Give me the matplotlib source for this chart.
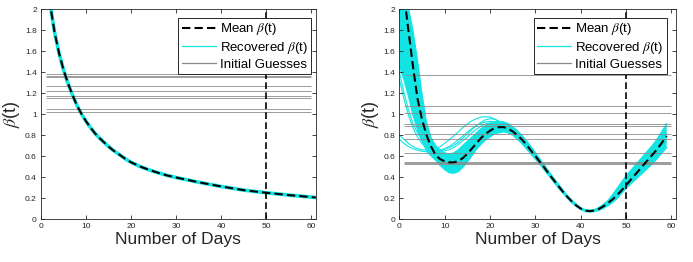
import numpy as np
import matplotlib
matplotlib.use("Agg")
import matplotlib.pyplot as plt
from matplotlib.lines import Line2D

plt.rcParams["font.family"] = ["Liberation Sans", "DejaVu Sans"]
plt.rcParams["mathtext.fontset"] = "stix"

# ---- left panel: decreasing beta(t) ----
days_left = [1, 2, 3, 4, 5, 6, 7, 8, 9, 10, 11, 12, 13, 14, 15, 16, 17, 18, 19, 20,
             22, 24, 26, 28, 30, 35, 40, 45, 50, 55, 61]
beta_left = [2.5, 2.05, 1.78, 1.58, 1.42, 1.29, 1.18, 1.08, 1.0, 0.93, 0.87, 0.815, 0.77, 0.73,
             0.69, 0.655, 0.625, 0.595, 0.565, 0.54, 0.50, 0.468, 0.44, 0.415, 0.395,
             0.35, 0.31, 0.275, 0.25, 0.228, 0.205]
guesses_left = [1.38, 1.365, 1.35, 1.27, 1.22, 1.175, 1.155, 1.045, 1.02]

# ---- right panel: oscillating beta(t) ----
days_right = list(range(0, 60))
beta_mean_right = [2.5, 2.15, 1.80, 1.46, 1.15, 0.95, 0.80, 0.69, 0.61, 0.57,
                   0.55, 0.54, 0.54, 0.55, 0.58, 0.62, 0.67, 0.72, 0.77, 0.81,
                   0.84, 0.865, 0.875, 0.875, 0.86, 0.835, 0.80, 0.76, 0.71, 0.655,
                   0.60, 0.545, 0.49, 0.43, 0.375, 0.32, 0.265, 0.215, 0.17, 0.13,
                   0.10, 0.08, 0.075, 0.08, 0.095, 0.12, 0.15, 0.185, 0.225, 0.27,
                   0.32, 0.37, 0.42, 0.47, 0.52, 0.57, 0.62, 0.67, 0.73, 0.79]
band_low = [1.45, 1.33, 1.17, 0.99, 0.85, 0.74, 0.65, 0.60, 0.56, 0.51,
            0.47, 0.44, 0.435, 0.45, 0.49, 0.54, 0.60, 0.66, 0.71, 0.75,
            0.78, 0.81, 0.82, 0.83, 0.82, 0.80, 0.76, 0.72, 0.67, 0.62,
            0.57, 0.52, 0.465, 0.41, 0.355, 0.30, 0.25, 0.20, 0.155, 0.12,
            0.09, 0.07, 0.065, 0.07, 0.08, 0.10, 0.125, 0.155, 0.19, 0.24,
            0.29, 0.33, 0.37, 0.41, 0.45, 0.49, 0.53, 0.58, 0.63, 0.68]
band_high = [2.7, 2.45, 2.02, 1.80, 1.52, 1.20, 0.92, 0.78, 0.70, 0.66,
             0.63, 0.62, 0.63, 0.66, 0.70, 0.74, 0.78, 0.82, 0.86, 0.89,
             0.91, 0.925, 0.93, 0.925, 0.91, 0.88, 0.845, 0.80, 0.75, 0.695,
             0.635, 0.575, 0.515, 0.455, 0.395, 0.34, 0.285, 0.23, 0.185, 0.145,
             0.11, 0.09, 0.085, 0.09, 0.11, 0.14, 0.175, 0.23, 0.29, 0.35,
             0.41, 0.46, 0.51, 0.56, 0.61, 0.66, 0.71, 0.77, 0.84, 0.91]
# a few recovered curves that stray from the main band (days 0-27)
days_stray = list(range(0, 28))
stray_a = [1.40, 1.21, 1.04, 0.91, 0.82, 0.75, 0.70, 0.67, 0.655, 0.655, 0.665, 0.68, 0.70, 0.73,
           0.77, 0.81, 0.85, 0.89, 0.92, 0.945, 0.955, 0.95, 0.93, 0.905, 0.87, 0.83, 0.79, 0.745]
stray_b = [1.33, 1.15, 0.99, 0.87, 0.78, 0.72, 0.68, 0.655, 0.645, 0.645, 0.65, 0.66, 0.68, 0.71,
           0.745, 0.78, 0.82, 0.855, 0.885, 0.905, 0.915, 0.915, 0.905, 0.885, 0.86, 0.83, 0.795, 0.755]
stray_c = [0.80, 0.76, 0.72, 0.69, 0.67, 0.66, 0.655, 0.66, 0.67, 0.69, 0.72, 0.755, 0.79, 0.83,
           0.87, 0.905, 0.935, 0.955, 0.97, 0.975, 0.97, 0.955, 0.93, 0.90, 0.865, 0.83, 0.79, 0.745]
stray_d = [0.76, 0.72, 0.69, 0.67, 0.655, 0.645, 0.64, 0.64, 0.645, 0.655, 0.67, 0.69, 0.72, 0.755,
           0.79, 0.83, 0.86, 0.89, 0.91, 0.925, 0.93, 0.925, 0.91, 0.885, 0.855, 0.82, 0.785, 0.745]
guesses_right = [1.375, 1.08, 1.01, 0.905, 0.89, 0.81, 0.76, 0.625, 0.54, 0.53, 0.52]

cut_day = 50
CYAN = "#12E4E4"
GRAY = "#8a8a8a"
AX_COL = "#262626"

fig = plt.figure(figsize=(6.93, 2.62), dpi=100)
ax1 = fig.add_axes([0.0592, 0.1641, 0.3963, 0.8015])
ax2 = fig.add_axes([0.5762, 0.1641, 0.3989, 0.8015])

# left
ax1.plot(days_left, beta_left, color=CYAN, lw=2.6, zorder=2)
ax1.hlines(guesses_left, 1, 60, color=GRAY, lw=0.7, alpha=0.85, zorder=2)
ax1.plot(days_left, beta_left, color="black", lw=1.5, ls=(0, (4, 2)), zorder=3)

# right
ax2.fill_between(days_right, band_low, band_high, color=CYAN, lw=0, zorder=1)
ax2.plot(days_right, band_low, color=CYAN, lw=0.8, zorder=1)
ax2.plot(days_right, band_high, color=CYAN, lw=0.8, zorder=1)
for curve in [stray_a, stray_b, stray_c, stray_d]:
    ax2.plot(days_stray, curve, color=CYAN, lw=0.8, zorder=1)
ax2.hlines(guesses_right, 1, 60, color=GRAY, lw=0.7, alpha=0.85, zorder=2)
ax2.plot(days_right, beta_mean_right, color="black", lw=1.5, ls=(0, (4, 2)), zorder=3)

handles = [
    Line2D([], [], color="black", lw=1.5, ls=(0, (4, 2))),
    Line2D([], [], color=CYAN, lw=0.9),
    Line2D([], [], color=GRAY, lw=0.9),
]
labels = [r"Mean $\beta$(t)", r"Recovered $\beta$(t)", "Initial Guesses"]

for ax, anchor in [(ax1, (0.984, 0.957)), (ax2, (0.967, 0.958))]:
    ax.axvline(cut_day, color="black", lw=1.2, ls=(0, (4, 2)), zorder=3)
    ax.set_xlim(0, 61)
    ax.set_ylim(0, 2)
    ax.set_xticks(range(0, 61, 10))
    ax.set_yticks(np.arange(0, 2.01, 0.2))
    ax.yaxis.set_major_formatter(plt.FormatStrFormatter("%g"))
    ax.tick_params(direction="in", length=3, width=0.6, labelsize=6, colors=AX_COL,
                   top=True, right=True, pad=3)
    for s in ax.spines.values():
        s.set_linewidth(0.6)
        s.set_color(AX_COL)
    ax.set_xlabel("Number of Days", fontsize=12.5, color=AX_COL, labelpad=1)
    ax.set_ylabel(r"$\beta$(t)", fontsize=13, color=AX_COL, labelpad=2)
    leg = ax.legend(handles, labels, loc="upper right", bbox_to_anchor=anchor,
                    fontsize=9.5, fancybox=False, framealpha=1, edgecolor=AX_COL,
                    handlelength=2.6, handletextpad=0.3, borderpad=0.25,
                    labelspacing=0.2, borderaxespad=0)
    leg.get_frame().set_linewidth(0.7)

fig.savefig("out.png", dpi=100)
